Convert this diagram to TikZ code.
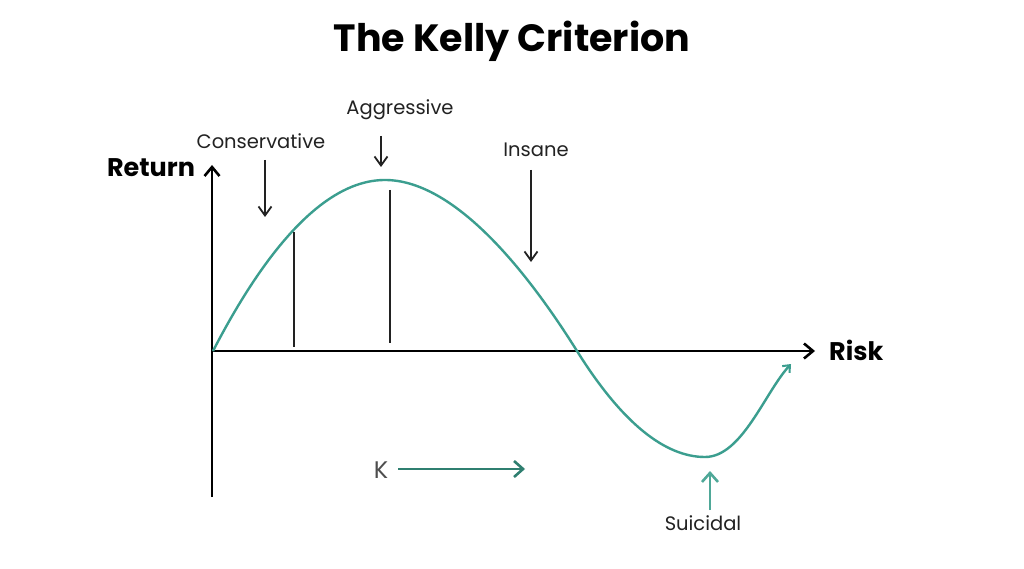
\documentclass[tikz,border=0pt]{standalone}
\usepackage{fontspec}
\setmainfont{Poppins}
\usetikzlibrary{arrows.meta}
\definecolor{teal1}{HTML}{3B9E8F}
\definecolor{teal2}{HTML}{2F7F70}
\definecolor{teal3}{HTML}{4FA898}
\definecolor{ink}{HTML}{222222}
\begin{document}
\begin{tikzpicture}[x=1pt,y=-1pt,
  lbl/.style={font=\fontsize{19.5}{22}\selectfont, text=ink, inner sep=0pt},
  boldlbl/.style={font=\fontsize{25.5}{28}\selectfont\bfseries, text=black, inner sep=0pt},
  axis/.style={line width=2.6pt, black, -{Straight Barb[length=9pt,width=15pt,line width=2.6pt]}},
  pointer/.style={line width=1.8pt, ink, -{Straight Barb[length=9pt,width=13pt,line width=1.8pt]}},
  curve/.style={line width=2.4pt, teal1},
  vline/.style={line width=1.5pt, ink}]
\useasboundingbox (0,0) rectangle (1024,569);
\fill[white] (0,0) rectangle (1024,569);
\node[font=\fontsize{38}{42}\selectfont\bfseries, inner sep=0pt, anchor=base] (title) at (512,52) {The Kelly Criterion};
% axes
\coordinate (o) at (213,351);
\coordinate (ybot) at (212,497);
\coordinate (ytop) at (212,165);
\coordinate (xend) at (815,351);
\draw[axis] (ybot) -- (ytop);
\draw[axis] (o) -- (xend);
\node[boldlbl, anchor=base] (ret) at (151,177) {Return};
\node[boldlbl, anchor=base west] (risk) at (829,360) {Risk};
% curve
\coordinate (peak) at (385,180);
\coordinate (cross) at (577,351);
\coordinate (trough) at (705,457);
\coordinate (cend) at (791,364);
\draw[curve, -{Straight Barb[length=6pt,width=10pt,line width=2pt]}] (o) .. controls (260,260) and (320,180) .. (peak)
  .. controls (450,180) and (520,260) .. (cross)
  .. controls (622,423) and (665,457) .. (trough)
  .. controls (742,457) and (765,392) .. (cend);
% verticals
\coordinate (v1t) at (294,232); \coordinate (v1b) at (294,347);
\coordinate (v2t) at (390,190); \coordinate (v2b) at (390,343);
\draw[vline] (v1t) -- (v1b);
\draw[vline] (v2t) -- (v2b);
% labels and pointers
\node[lbl, anchor=base] (cons) at (261,149) {Conservative};
\coordinate (c1) at (265,160); \coordinate (c2) at (265,217);
\draw[pointer] (c1) -- (c2);
\node[lbl, anchor=base] (aggr) at (400,115) {Aggressive};
\coordinate (a1) at (381,136); \coordinate (a2) at (381,167);
\draw[pointer] (a1) -- (a2);
\node[lbl, anchor=base] (ins) at (536,157) {Insane};
\coordinate (i1) at (531,170); \coordinate (i2) at (531,262);
\draw[pointer] (i1) -- (i2);
% K
\node[font=\fontsize{24}{26}\selectfont, text=ink!80, inner sep=0pt, anchor=base] (k) at (381,478) {K};
\coordinate (k1) at (398,469); \coordinate (k2) at (525,469);
\draw[line width=2.6pt, teal2, -{Straight Barb[length=9pt,width=16pt,line width=2.6pt]}] (k1) -- (k2);
% Suicidal
\node[lbl, anchor=base] (sui) at (703,530) {Suicidal};
\coordinate (s1) at (710,510); \coordinate (s2) at (710,471);
\draw[line width=2.6pt, teal3, -{Straight Barb[length=9pt,width=16pt,line width=2.6pt]}] (s1) -- (s2);
\end{tikzpicture}
\end{document}
